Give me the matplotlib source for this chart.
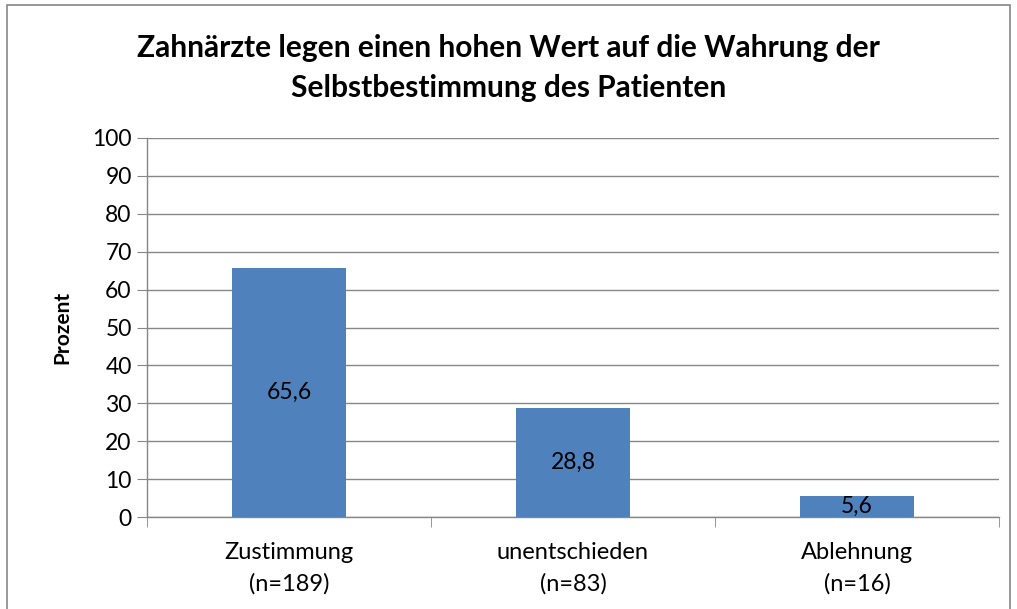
"""Bar chart: Selbstbestimmung des Patienten (Zahnärzte)."""

import matplotlib

matplotlib.use("Agg")

import matplotlib.pyplot as plt
from matplotlib.patches import Rectangle


categories = ["Zustimmung\n(n=189)", "unentschieden\n(n=83)", "Ablehnung\n(n=16)"]
values = [65.6, 28.8, 5.6]
value_labels = ["65,6", "28,8", "5,6"]
y_ticks = [0, 10, 20, 30, 40, 50, 60, 70, 80, 90, 100]

BAR_COLOR = "#4F81BD"
GRID_COLOR = "#878787"

plt.rcParams["font.family"] = ["Lato", "DejaVu Sans"]

fig = plt.figure(figsize=(10.17, 6.09), dpi=100)
fig.patches.append(
    Rectangle((7 / 1017, -0.01), 1003 / 1017, 1 - 5 / 609 + 0.01,
              transform=fig.transFigure, fill=False,
              edgecolor="#868686", linewidth=1.2)
)

ax = fig.add_axes([147 / 1017, 1 - 517 / 609, 852 / 1017, 379 / 609])

x = list(range(len(categories)))
bars = ax.bar(x, values, width=0.4, color=BAR_COLOR, zorder=3)

for rect, label in zip(bars, value_labels):
    ax.text(rect.get_x() + rect.get_width() / 2, rect.get_height() / 2, label,
            ha="center", va="center", fontsize=16.5, color="black", zorder=4)

ax.set_xlim(-0.5, len(categories) - 0.5)
ax.set_ylim(0, 100)
ax.set_yticks(y_ticks)
ax.tick_params(axis="y", labelsize=16.5, length=7, color=GRID_COLOR, pad=4)
ax.yaxis.grid(True, color=GRID_COLOR, linewidth=1.0, zorder=0)

ax.set_xticks(x)
ax.set_xticklabels(categories, fontsize=17, linespacing=1.6)
ax.tick_params(axis="x", which="major", length=0, pad=18)
ax.set_xticks([i - 0.5 for i in range(len(categories) + 1)], minor=True)
ax.tick_params(axis="x", which="minor", length=7, color=GRID_COLOR)

for side in ("top", "right"):
    ax.spines[side].set_visible(False)
for side in ("left", "bottom"):
    ax.spines[side].set_color(GRID_COLOR)
    ax.spines[side].set_linewidth(1.0)

ax.set_ylabel("Prozent", fontsize=15, fontweight="bold", labelpad=14)

fig.text(0.5, 1 - 68 / 609,
         "Zahnärzte legen einen hohen Wert auf die Wahrung der\nSelbstbestimmung des Patienten",
         ha="center", va="center", fontsize=21.5, fontweight="bold", linespacing=1.5)

fig.savefig("out.png", dpi=100)
